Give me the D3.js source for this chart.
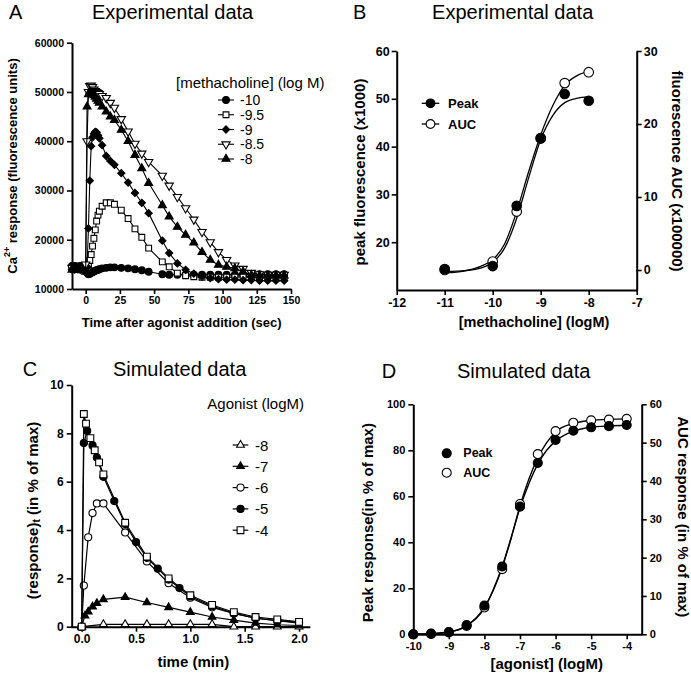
<!DOCTYPE html>
<html><head><meta charset="utf-8">
<script src="https://cdn.jsdelivr.net/npm/d3@7"></script>
<style>
body{margin:0;background:#fff;}
svg{display:block;font-family:Arial,"Liberation Sans",Helvetica,sans-serif;}
</style></head><body>
<svg id="chart" width="691" height="673"></svg>
<script>
// ---------- Panel A data (experimental time courses) ----------
const timeA = [-10,-8,-6,-4,-2,0,1,2,3,4,5,6,7,8,9,10,12,15,18,21,26,31,36,41,46,56,61,67,73,79,85,91,97,103,109,115,121,127,133,139,145];
const aM10 = [14700,14700,14600,14700,14500,14000,13300,13000,13100,13300,13400,13600,13700,13800,13900,14000,14200,14300,14400,14400,14300,14200,14000,13800,13500,13000,12900,12900,12900,12900,12900,12900,12900,12900,12900,12900,13000,13000,13000,13000,13000];
const aM95 = [14200,14300,14200,14300,14100,14000,14300,14900,15800,17000,18700,20300,22000,23800,25000,25800,26800,27500,27500,27200,26000,24300,22200,20500,18300,15500,14500,13200,12700,12500,12400,12400,12400,12400,12400,12500,12500,12500,12500,12500,12500];
const aM9 = [14000,14000,14100,14000,13900,13800,14500,22300,32000,39000,40800,41500,41900,41800,41200,40600,39200,37000,36000,35200,33500,31600,29500,27500,25400,19800,17300,15200,13900,13100,12500,12200,12000,11900,11900,11800,11800,11700,11700,11700,11700];
const aM85 = [14300,14200,14300,14200,14200,15000,40000,50000,51200,51300,51000,50500,50200,50000,49800,49600,49200,48800,47800,46800,44500,42000,39500,37500,35800,33000,31000,28700,26400,24100,21600,19500,17500,15900,14800,14100,13300,13000,12900,12900,12900];
const aM8 = [13900,13900,14000,13900,13800,13500,47000,49500,50000,49800,49500,49300,49000,48600,48200,47800,47000,46000,45000,44300,42300,40000,37200,34500,31500,27000,24700,22600,21000,19400,17500,15900,14900,14500,14200,13500,12800,12700,12700,12700,12700];
const aLabels = ["-10","-9.5","-9","-8.5","-8"];
const aXTicks = [0,25,50,75,100,125,150];
const aYTicks = [10000,20000,30000,40000,50000,60000];

// ---------- Panel B data ----------
const bX = [-11,-10,-9.5,-9,-8.5,-8];
const bPeak = [14.4,15.0,27.6,41.8,51.0,49.6];
const bAUC = [0.0,1.15,8.0,18.0,25.6,27.1];
const bFitX = [-11,-10.75,-10.5,-10.25,-10,-9.75,-9.5,-9.25,-9,-8.75,-8.5,-8.25,-8];
const bPeakFit = [13.9,13.95,14.1,14.6,15.8,18.8,25.0,33.5,41.5,46.5,49.2,50.1,50.4];
const bAUCFit = [-0.4,-0.3,0.0,0.5,1.4,3.6,8.0,13.5,18.5,22.5,25.3,26.6,27.2];
const bXTicks = [-12,-11,-10,-9,-8,-7];
const bYTicks = [20,30,40,50,60];
const bY2Ticks = [0,10,20,30];

// ---------- Panel C data (simulated time courses) ----------
const cM8 = [[0,0],[0.2,0.1],[0.4,0.1],[0.6,0.1],[0.8,0.1],[1.0,0.1],[1.2,0.1],[1.4,0],[1.6,0],[1.8,0],[2.0,0]];
const cM7 = [[0,0],[0.03,0.45],[0.06,0.62],[0.1,0.83],[0.14,0.97],[0.2,1.13],[0.4,1.22],[0.6,1.0],[0.8,0.8],[1.0,0.6],[1.2,0.4],[1.4,0.27],[1.6,0.15],[1.8,0.08],[2.0,0.05]];
const cM6 = [[0,0],[0.02,1.7],[0.06,3.7],[0.1,4.7],[0.14,5.1],[0.2,5.1],[0.4,3.9],[0.6,2.7],[0.8,1.8],[1.0,1.2],[1.2,0.8],[1.4,0.55],[1.6,0.35],[1.8,0.25],[2.0,0.15]];
const cM5 = [[0,0],[0.02,7.6],[0.05,8.1],[0.1,7.5],[0.14,7.0],[0.2,6.2],[0.3,5.2],[0.4,4.25],[0.5,3.5],[0.6,2.85],[0.7,2.4],[0.8,1.95],[0.9,1.6],[1.0,1.25],[1.2,0.85],[1.4,0.55],[1.6,0.35],[1.8,0.25],[2.0,0.18]];
const cM4 = [[0,0],[0.02,8.8],[0.04,8.4],[0.08,7.8],[0.12,7.3],[0.16,6.8],[0.2,6.3],[0.4,4.3],[0.6,2.9],[0.8,2.0],[1.0,1.3],[1.2,0.9],[1.4,0.6],[1.6,0.4],[1.8,0.3],[2.0,0.2]];
const cLabels = ["-8","-7","-6","-5","-4"];
const cXTicks = [0,0.5,1.0,1.5,2.0];
const cYTicks = [0,2,4,6,8,10];

// ---------- Panel D data ----------
const dX = [-10,-9.5,-9,-8.5,-8,-7.5,-7,-6.5,-6,-5.5,-5,-4.5,-4];
const dPeak = [0,0.3,1,4,12.5,29.5,55.5,74.5,84.5,88.5,90,90.5,91];
const dAUC = [0,0.1,0.5,2.2,7,17,34,47,53,55.2,55.8,56,56.2];
const dFitX = [-10,-9.5,-9,-8.5,-8,-7.75,-7.5,-7.25,-7,-6.75,-6.5,-6.25,-6,-5.5,-5,-4.5,-4];
const dPeakFit = [0.1,0.3,1.0,3.8,11.5,19.5,29.5,42,55,65.5,74,80,84,88.3,90,90.6,90.9];
const dAUCFit = [0.05,0.15,0.6,2.2,7.0,11.5,17.5,25,33.5,40.5,46,50,52.8,55,55.8,56.1,56.2];
const dXTicks = [-10,-9,-8,-7,-6,-5,-4];
const dYTicks = [0,20,40,60,80,100];
const dY2Ticks = [0,10,20,30,40,50,60];

// ---------- helpers ----------
const svg = d3.select("#chart");
const FONT = "Arial, 'Liberation Sans', Helvetica, sans-serif";
const plain = d => String(d);

function styleAxis(g, fs) {
  g.select(".domain").attr("stroke", "#000").attr("stroke-width", 2);
  g.selectAll(".tick line").attr("stroke", "#000").attr("stroke-width", 1.6);
  g.selectAll(".tick text").attr("fill", "#000")
    .style("font-size", fs + "px").style("font-weight", "bold").style("font-family", FONT);
}
function text(x, y, str, opt = {}) {
  const t = svg.append("text").attr("x", x).attr("y", y).text(str)
    .style("font-family", FONT).style("font-size", (opt.size || 13) + "px")
    .style("font-weight", opt.bold ? "bold" : "normal")
    .attr("text-anchor", opt.anchor || "start");
  if (opt.baseline) t.attr("dominant-baseline", opt.baseline);
  return t;
}
function rotLabel(x, y, angle, fs) {
  return svg.append("text")
    .attr("transform", `translate(${x},${y}) rotate(${angle})`)
    .attr("text-anchor", "middle").attr("dominant-baseline", "central")
    .style("font-family", FONT).style("font-size", fs + "px").style("font-weight", "bold");
}
const SYM = {
  circle: d3.symbolCircle, square: d3.symbolSquare, diamond: d3.symbolSquare,
  triangle: d3.symbolTriangle, tridown: d3.symbolTriangle
};
function marker(g, x, y, kind, filled, size) {
  const rot = kind === "diamond" ? 45 : kind === "tridown" ? 180 : 0;
  g.append("path").attr("d", d3.symbol().type(SYM[kind]).size(size)())
    .attr("transform", `translate(${x},${y}) rotate(${rot})`)
    .attr("fill", filled ? "#000" : "#fff").attr("stroke", "#000").attr("stroke-width", 1.1);
}
function series(g, pts, xs, ys, kind, filled, size, lw) {
  g.append("path").datum(pts)
    .attr("d", d3.line().x(d => xs(d[0])).y(d => ys(d[1])))
    .attr("fill", "none").attr("stroke", "#000").attr("stroke-width", lw);
  pts.forEach(d => marker(g, xs(d[0]), ys(d[1]), kind, filled, size));
}
const zip = (xs, vs) => xs.map((x, i) => [x, vs[i]]);

// ================= Panel A =================
{
  const x = d3.scaleLinear().domain([-10, 150]).range([72, 291]);
  const y = d3.scaleLinear().domain([10000, 60000]).range([289, 42.7]);
  const gx = svg.append("g").attr("transform", "translate(0,289)")
    .call(d3.axisBottom(x).tickValues(aXTicks).tickSize(5).tickSizeOuter(0).tickPadding(3).tickFormat(plain));
  styleAxis(gx, 10.5);
  const gy = svg.append("g").attr("transform", "translate(72,0)")
    .call(d3.axisLeft(y).tickValues(aYTicks).tickSize(5).tickSizeOuter(0).tickPadding(3).tickFormat(plain));
  styleAxis(gy, 10.5);
  const g = svg.append("g");
  const defs = [[aM10, "circle", true, 36], [aM95, "square", false, 34], [aM9, "diamond", true, 26],
                [aM85, "tridown", false, 30], [aM8, "triangle", true, 28]];
  defs.forEach(([vals, k, f, s]) => series(g, zip(timeA, vals), x, y, k, f, s, 1.1));
  text(176, 82, "[methacholine] (log M)", { size: 15, baseline: "central" });
  defs.forEach(([vals, k, f, s], i) => {
    const yy = 100 + 14.75 * i;
    g.append("line").attr("x1", 218).attr("x2", 234).attr("y1", yy).attr("y2", yy).attr("stroke", "#000").attr("stroke-width", 1.1);
    marker(g, 226, yy, k, f, s);
    text(240, yy, aLabels[i], { size: 14, baseline: "central" });
  });
  text(9, 19, "A", { size: 20 });
  text(172.6, 19, "Experimental data", { size: 20, anchor: "middle" });
  text(181.7, 327, "Time after agonist addition (sec)", { size: 13, bold: true, anchor: "middle" });
  const yl = rotLabel(12, 166, -90, 13);
  yl.append("tspan").text("Ca");
  yl.append("tspan").text("2+").attr("dy", -5).style("font-size", "9px");
  yl.append("tspan").text(" response (fluorescence units)").attr("dy", 5);
}

// ================= Panel B =================
{
  const x = d3.scaleLinear().domain([-12, -7]).range([396.7, 636.7]);
  const y = d3.scaleLinear().domain([10, 60]).range([290, 51]);
  const y2 = d3.scaleLinear().domain([-2.74, 30]).range([290, 51]);
  const gx = svg.append("g").attr("transform", "translate(0,290)")
    .call(d3.axisBottom(x).tickValues(bXTicks).tickSize(5).tickSizeOuter(0).tickPadding(3).tickFormat(plain));
  styleAxis(gx, 12.5);
  const gy = svg.append("g").attr("transform", "translate(396.7,0)")
    .call(d3.axisLeft(y).tickValues(bYTicks).tickSize(5).tickSizeOuter(0).tickPadding(2).tickFormat(plain));
  styleAxis(gy, 12.5);
  const gy2 = svg.append("g").attr("transform", "translate(636.7,0)")
    .call(d3.axisRight(y2).tickValues(bY2Ticks).tickSize(5).tickSizeOuter(0).tickPadding(2).tickFormat(plain));
  styleAxis(gy2, 12.5);
  const g = svg.append("g");
  const ln = d3.line().curve(d3.curveMonotoneX);
  g.append("path").attr("d", ln(bFitX.map((v, i) => [x(v), y(bPeakFit[i])]))).attr("fill", "none").attr("stroke", "#000").attr("stroke-width", 1.3);
  g.append("path").attr("d", ln(bFitX.map((v, i) => [x(v), y2(bAUCFit[i])]))).attr("fill", "none").attr("stroke", "#000").attr("stroke-width", 1.3);
  bX.forEach((v, i) => marker(g, x(v), y2(bAUC[i]), "circle", false, 72));
  bX.forEach((v, i) => marker(g, x(v), y(bPeak[i]), "circle", true, 72));
  [["Peak", true], ["AUC", false]].forEach(([lab, f], i) => {
    const yy = 103.3 + 20.7 * i;
    g.append("line").attr("x1", 421.7).attr("x2", 439.3).attr("y1", yy).attr("y2", yy).attr("stroke", "#000").attr("stroke-width", 1.3);
    marker(g, 430.5, yy, "circle", f, 60);
    text(448, yy, lab, { size: 13, bold: true, baseline: "central" });
  });
  text(353, 19, "B", { size: 20 });
  text(512.7, 19, "Experimental data", { size: 20, anchor: "middle" });
  text(534, 327, "[methacholine] (logM)", { size: 14.5, bold: true, anchor: "middle" });
  rotLabel(359, 172, -90, 15).text("peak fluorescence (x1000)");
  rotLabel(677, 171, 90, 15).text("fluorescence AUC (x100000)");
}

// ================= Panel C =================
{
  const x = d3.scaleLinear().domain([-0.1, 2.1]).range([70.8, 309.9]);
  const y = d3.scaleLinear().domain([0, 10]).range([626.7, 385]);
  const gx = svg.append("g").attr("transform", "translate(0,626.7)")
    .call(d3.axisBottom(x).tickValues(cXTicks).tickSize(5).tickSizeOuter(0).tickPadding(3).tickFormat(d3.format(".1f")));
  styleAxis(gx, 12);
  const gy = svg.append("g").attr("transform", "translate(71.7,0)")
    .call(d3.axisLeft(y).tickValues(cYTicks).tickSize(5).tickSizeOuter(0).tickPadding(3).tickFormat(plain));
  styleAxis(gy, 12);
  const g = svg.append("g");
  const defs = [[cM8, "triangle", false, 26], [cM7, "triangle", true, 26], [cM6, "circle", false, 40],
                [cM5, "circle", true, 40], [cM4, "square", false, 46]];
  defs.forEach(([pts, k, f, s]) => series(g, pts, x, y, k, f, s, 1.2));
  text(207.3, 403.3, "Agonist (logM)", { size: 15, baseline: "central" });
  defs.forEach(([pts, k, f, s], i) => {
    const yy = 445 + 21.3 * i;
    g.append("line").attr("x1", 232.7).attr("x2", 248.3).attr("y1", yy).attr("y2", yy).attr("stroke", "#000").attr("stroke-width", 1.2);
    marker(g, 240.5, yy, k, f, s);
    text(255, yy, cLabels[i], { size: 15, baseline: "central" });
  });
  text(22.7, 375.5, "C", { size: 20 });
  text(179.6, 375.5, "Simulated data", { size: 20, anchor: "middle" });
  text(193.3, 667, "time (min)", { size: 15, bold: true, anchor: "middle" });
  const yl = rotLabel(31.7, 510.5, -90, 15);
  yl.append("tspan").text("(response)");
  yl.append("tspan").text("t").attr("dy", 4).style("font-size", "10px");
  yl.append("tspan").text(" (in % of max)").attr("dy", -4);
}

// ================= Panel D =================
{
  const x = d3.scaleLinear().domain([-10, -4]).range([413.3, 626.7]);
  const xEnd = 641.7;
  const y = d3.scaleLinear().domain([0, 100]).range([634.3, 404.3]);
  const y2 = d3.scaleLinear().domain([0, 60]).range([634.3, 404.3]);
  const gx = svg.append("g").attr("transform", "translate(0,634.3)")
    .call(d3.axisBottom(x.copy().domain([-10, x.invert(xEnd)]).range([413.3, xEnd])).tickValues(dXTicks).tickSize(5).tickSizeOuter(0).tickPadding(3).tickFormat(plain));
  styleAxis(gx, 11);
  const gy = svg.append("g").attr("transform", "translate(413.3,0)")
    .call(d3.axisLeft(y).tickValues(dYTicks).tickSize(5).tickSizeOuter(0).tickPadding(3).tickFormat(plain));
  styleAxis(gy, 11);
  const gy2 = svg.append("g").attr("transform", `translate(${xEnd},0)`)
    .call(d3.axisRight(y2).tickValues(dY2Ticks).tickSize(5).tickSizeOuter(0).tickPadding(3).tickFormat(plain));
  styleAxis(gy2, 11);
  const g = svg.append("g");
  const ln = d3.line().curve(d3.curveMonotoneX);
  g.append("path").attr("d", ln(dFitX.map((v, i) => [x(v), y(dPeakFit[i])]))).attr("fill", "none").attr("stroke", "#000").attr("stroke-width", 1.4);
  g.append("path").attr("d", ln(dFitX.map((v, i) => [x(v), y2(dAUCFit[i])]))).attr("fill", "none").attr("stroke", "#000").attr("stroke-width", 1.4);
  dX.forEach((v, i) => marker(g, x(v), y2(dAUC[i]), "circle", false, 64));
  dX.forEach((v, i) => marker(g, x(v), y(dPeak[i]), "circle", true, 64));
  [["Peak", true], ["AUC", false]].forEach(([lab, f], i) => {
    const yy = 453.3 + 19.4 * i;
    marker(g, 446.7, yy, "circle", f, 64);
    text(463.3, yy, lab, { size: 12.5, bold: true, baseline: "central" });
  });
  text(381.7, 378, "D", { size: 20 });
  text(523.7, 378, "Simulated data", { size: 20, anchor: "middle" });
  text(546.7, 669, "[agonist] (logM)", { size: 15, bold: true, anchor: "middle" });
  rotLabel(367, 522.7, -90, 15).text("Peak response(in % of max)");
  rotLabel(683, 516.7, 90, 15).text("AUC response (in % of max)");
}
</script></body></html>
